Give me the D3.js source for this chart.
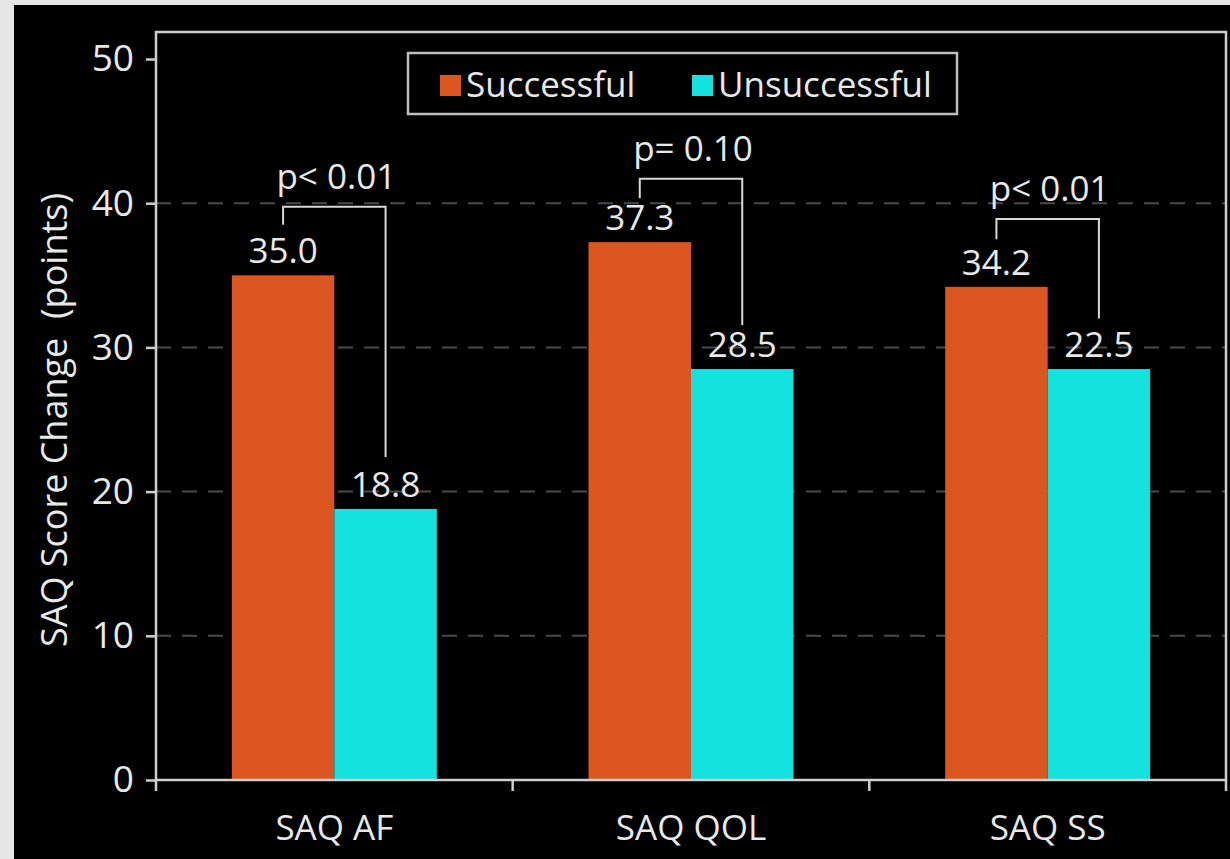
<!DOCTYPE html>
<html><head><meta charset="utf-8">
<script src="https://cdn.jsdelivr.net/npm/d3@7"></script>
<style>
html,body{margin:0;padding:0;background:#e6e6e6;}
svg{display:block;}
text{font-family:"Open Sans","Noto Sans",sans-serif;fill:#e8e8e8;}
</style></head>
<body>
<script>
const categories = ["SAQ AF", "SAQ QOL", "SAQ SS"];
const seriesNames = ["Successful", "Unsuccessful"];
const successful = [35.0, 37.3, 34.2];
const unsuccessful = [18.8, 28.5, 28.5];
const successfulLabels = ["35.0", "37.3", "34.2"];
const unsuccessfulLabels = ["18.8", "28.5", "22.5"];
const pLabels = ["p< 0.01", "p= 0.10", "p< 0.01"];
const bracketTop = [39.75, 41.7, 38.9];
const bracketLeftEnd = [38.5, 40.35, 37.5];
const bracketRightEnd = [22.4, 31.55, 32.0];
const yTicks = [0, 10, 20, 30, 40, 50];
const colors = ["#db5620", "#14e2de"];

(function () {
const W = 1230, H = 859;
const svg = d3.select("body").append("svg").attr("width", W).attr("height", H);
svg.append("rect").attr("x", 14).attr("y", 5).attr("width", W - 14).attr("height", H - 5).attr("fill", "#000");

const mL = 156, mR = 1226, mT = 32, mB = 780;
const y = d3.scaleLinear().domain([0, 50]).range([mB, 59]);
const x = d3.scaleBand().domain(categories).range([mL, mR]).paddingInner(0).paddingOuter(0);
const inner = d3.scaleBand().domain(seriesNames).range([0, x.bandwidth()]).paddingOuter(0.74).paddingInner(0);

// gridlines
svg.append("g").selectAll("line").data(yTicks.filter(d => d > 0 && d < 50)).join("line")
  .attr("x1", mL).attr("x2", mR).attr("y1", d => y(d)).attr("y2", d => y(d))
  .attr("stroke", "#4a4a4a").attr("stroke-width", 2).attr("stroke-dasharray", "15,11");

// bars
const data = categories.map((c, i) => ({c, vals: [successful[i], unsuccessful[i]], labs: [successfulLabels[i], unsuccessfulLabels[i]]}));
const g = svg.append("g");
data.forEach((d, i) => {
  d.vals.forEach((v, j) => {
    const bx = x(d.c) + inner(seriesNames[j]);
    g.append("rect").attr("x", bx).attr("y", y(v)).attr("width", inner.bandwidth()).attr("height", y(0) - y(v)).attr("fill", colors[j]);
    g.append("text").attr("x", bx + inner.bandwidth() / 2).attr("y", y(v) - 12)
      .attr("text-anchor", "middle").attr("font-size", 35).text(d.labs[j]);
  });
  const xl = x(d.c) + inner(seriesNames[0]) + inner.bandwidth() / 2;
  const xr = x(d.c) + inner(seriesNames[1]) + inner.bandwidth() / 2;
  g.append("path").attr("d", `M${xl},${y(bracketLeftEnd[i])}V${y(bracketTop[i])}H${xr}V${y(bracketRightEnd[i])}`)
    .attr("fill", "none").attr("stroke", "#d8d8d8").attr("stroke-width", 2);
  g.append("text").attr("x", (xl + xr) / 2 + 2).attr("y", y(bracketTop[i]) - 18)
    .attr("text-anchor", "middle").attr("font-size", 35).text(pLabels[i]);
});

// frame
svg.append("rect").attr("x", mL).attr("y", mT).attr("width", mR - mL).attr("height", mB - mT)
  .attr("fill", "none").attr("stroke", "#cfcfcf").attr("stroke-width", 2.5);

// y axis
const yAxis = svg.append("g").attr("transform", `translate(${mL},0)`)
  .call(d3.axisLeft(y).tickValues(yTicks).tickSize(10).tickPadding(12));
yAxis.select(".domain").remove();
yAxis.selectAll("line").attr("stroke", "#cfcfcf").attr("stroke-width", 2.5);
yAxis.selectAll("text").attr("font-size", 37).attr("fill", "#e8e8e8").attr("font-family", '"Open Sans",sans-serif');

// x axis
const xAxis = svg.append("g").attr("transform", `translate(0,${mB})`)
  .call(d3.axisBottom(x).tickSize(0).tickPadding(35));
xAxis.select(".domain").remove();
xAxis.selectAll("text").attr("font-size", 35).attr("fill", "#e8e8e8").attr("font-family", '"Open Sans",sans-serif');
const bounds = [mL].concat(categories.map(c => x(c) + x.bandwidth()));
svg.append("g").selectAll("line").data(bounds).join("line")
  .attr("x1", d => d).attr("x2", d => d).attr("y1", mB).attr("y2", mB + 11)
  .attr("stroke", "#cfcfcf").attr("stroke-width", 2.5);

// y title
svg.append("text").attr("transform", `translate(67,420) rotate(-90)`)
  .attr("text-anchor", "middle").attr("font-size", 36).text("SAQ Score Change\u00a0\u00a0(points)");

// legend
const lg = svg.append("g");
lg.append("rect").attr("x", 408).attr("y", 53).attr("width", 549).attr("height", 61)
  .attr("fill", "none").attr("stroke", "#bdbdbd").attr("stroke-width", 2.5);
const legX = [440, 692];
seriesNames.forEach((s, j) => {
  lg.append("rect").attr("x", legX[j]).attr("y", 75).attr("width", 21).attr("height", 21).attr("fill", colors[j]);
  lg.append("text").attr("x", legX[j] + 26).attr("y", 97).attr("font-size", 35).text(s);
});
})();
</script>
</body></html>
